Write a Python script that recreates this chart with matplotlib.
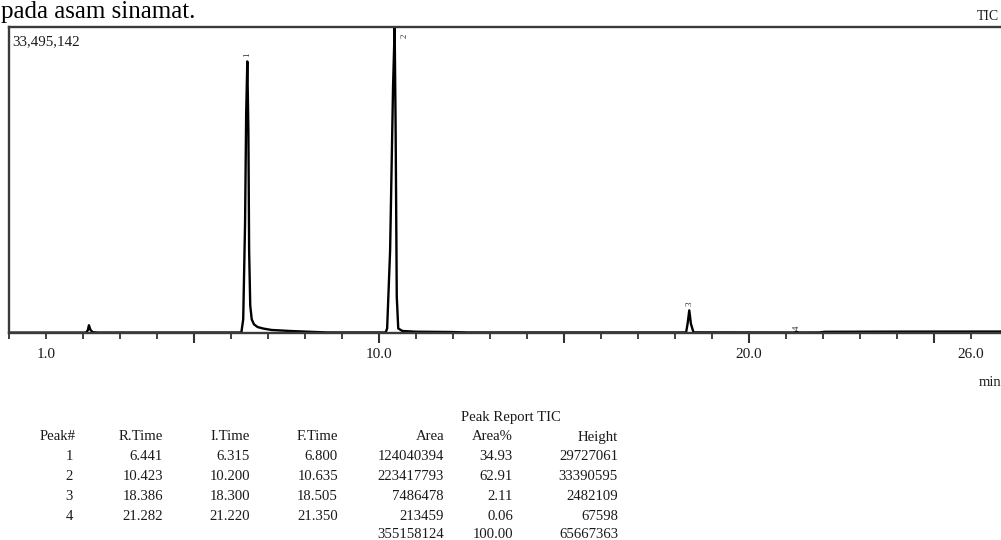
import matplotlib
matplotlib.use("Agg")
import matplotlib.pyplot as plt
from matplotlib.ticker import MultipleLocator, NullFormatter

# ---------------- data ----------------
full_scale = 33495142
# trace points (time in min, intensity in counts)
trace_time = [0.0, 2.08, 2.13, 2.16, 2.20, 2.26, 2.40,
              6.28, 6.33, 6.38, 6.41, 6.441, 6.47, 6.49, 6.52, 6.56, 6.62, 6.72, 6.88, 7.10, 7.60, 8.20, 8.60,
              10.18, 10.22, 10.30, 10.38, 10.423, 10.45, 10.48, 10.52, 10.63, 11.00, 11.90, 12.40,
              18.30, 18.34, 18.386, 18.43, 18.50,
              21.22, 21.282, 21.35, 21.90, 22.05, 24.00, 27.20]
trace_signal = [40000, 45000, 300000, 850000, 350000, 90000, 50000,
                55000, 1500000, 12000000, 24000000, 29727061, 22000000, 9000000, 3000000, 1500000, 950000, 650000, 480000, 330000, 220000, 120000, 60000,
                60000, 500000, 9000000, 27000000, 33390595, 22000000, 4000000, 500000, 220000, 140000, 110000, 60000,
                60000, 1000000, 2482109, 1000000, 70000,
                55000, 120000, 55000, 60000, 130000, 150000, 160000]

peak_no = ["1", "2", "3", "4"]
r_time = [6.441, 10.423, 18.386, 21.282]
i_time = ["6.315", "10.200", "18.300", "21.220"]
f_time = ["6.800", "10.635", "18.505", "21.350"]
area = ["124040394", "223417793", "7486478", "213459"]
area_pct = ["34.93", "62.91", "2.11", "0.06"]
height = [29727061, 33390595, 2482109, 67598]
total_area = "355158124"
total_pct = "100.00"
total_height = "65667363"
header = ["Peak#", "R.Time", "I.Time", "F.Time", "Area", "Area%", "Height"]
xtick_vals = [1.0, 10.0, 20.0, 26.0]

# ---------------- figure ----------------
W, H = 1001, 540
fig = plt.figure(figsize=(W / 100, H / 100), dpi=100)
fig.patch.set_facecolor("white")
serif = ["Liberation Serif", "DejaVu Serif"]
tcol = "#1a1a1a"

def px(x, y):
    return x / W, 1 - y / H

ax_left, ax_right, ax_top, ax_bot = 9, 1008, 27, 333
l, b = px(ax_left, ax_bot)
ax = fig.add_axes([l, b, (ax_right - ax_left) / W, (ax_bot - ax_top) / H])
ax.plot(trace_time, trace_signal, color="black", lw=1.7, solid_joinstyle="round")
ax.set_xlim(0, 27.0)
ax.set_ylim(0, full_scale)

for s in ["top", "left", "bottom"]:
    ax.spines[s].set_color("#3a3a3a")
    ax.spines[s].set_linewidth(1.7)
ax.spines["right"].set_visible(False)
ax.set_yticks([])

ax.set_xticks(xtick_vals)
ax.set_xticklabels([f"{v:.1f}" for v in xtick_vals], fontfamily=serif,
                   fontsize=11, color=tcol)
ax.xaxis.set_minor_locator(MultipleLocator(1))
ax.tick_params(axis="x", which="both", direction="out", length=4, width=1.3,
               color="#333333", pad=7)
sec = ax.secondary_xaxis("bottom")
sec.set_xticks([5, 10, 15, 20, 25])
sec.xaxis.set_major_formatter(NullFormatter())
sec.tick_params(axis="x", direction="out", length=7, width=1.5, color="#333333")
sec.spines["bottom"].set_visible(False)

# peak labels (rotated)
offsets = [(0, 3), (7, -7), (0, 3), (0, 2)]
for n, t, h, off in zip(peak_no, r_time, height, offsets):
    ax.annotate(n, xy=(t, min(h, full_scale)), xytext=off, textcoords="offset points",
                rotation=90, fontsize=6.5, ha="center", va="bottom", family=serif,
                color="#333333", annotation_clip=False)

# texts around chart
fig.text(*px(12, 42), "33,495,142", fontsize=10.8, family=serif, va="center",
         ha="left", color=tcol)
fig.text(*px(977, 16), "TIC", fontsize=10, family=serif, va="center", ha="left",
         color=tcol)
fig.text(*px(979, 382), "min", fontsize=10.5, family=serif, va="center", ha="left",
         color=tcol)
fig.text(*px(1, 18), "pada asam sinamat.", fontsize=18, family=serif, va="baseline",
         ha="left", color="black")

# table
fs = 10.6
fig.text(*px(511, 418), "Peak Report TIC", fontsize=fs, family=serif, ha="center",
         va="center", color=tcol)
col_right = [76, 163, 250, 338, 444, 513, 618]
row_y = [437, 457, 476, 496, 516, 534]
for x, hdr in zip(col_right, header):
    fig.text(*px(x, row_y[0]), hdr, fontsize=fs, family=serif, ha="right",
             va="center", color=tcol)
for i in range(len(peak_no)):
    vals = [peak_no[i], f"{r_time[i]:.3f}", i_time[i], f_time[i], area[i],
            area_pct[i], str(height[i])]
    for x, v in zip(col_right, vals):
        fig.text(*px(x - (3 if x == 76 else 0), row_y[i + 1]), v, fontsize=fs,
                 family=serif, ha="right", va="center", color=tcol)
for x, v in zip(col_right[4:], [total_area, total_pct, total_height]):
    fig.text(*px(x, row_y[5]), v, fontsize=fs, family=serif, ha="right",
             va="center", color=tcol)

fig.savefig("out.png", dpi=100, facecolor="white")
